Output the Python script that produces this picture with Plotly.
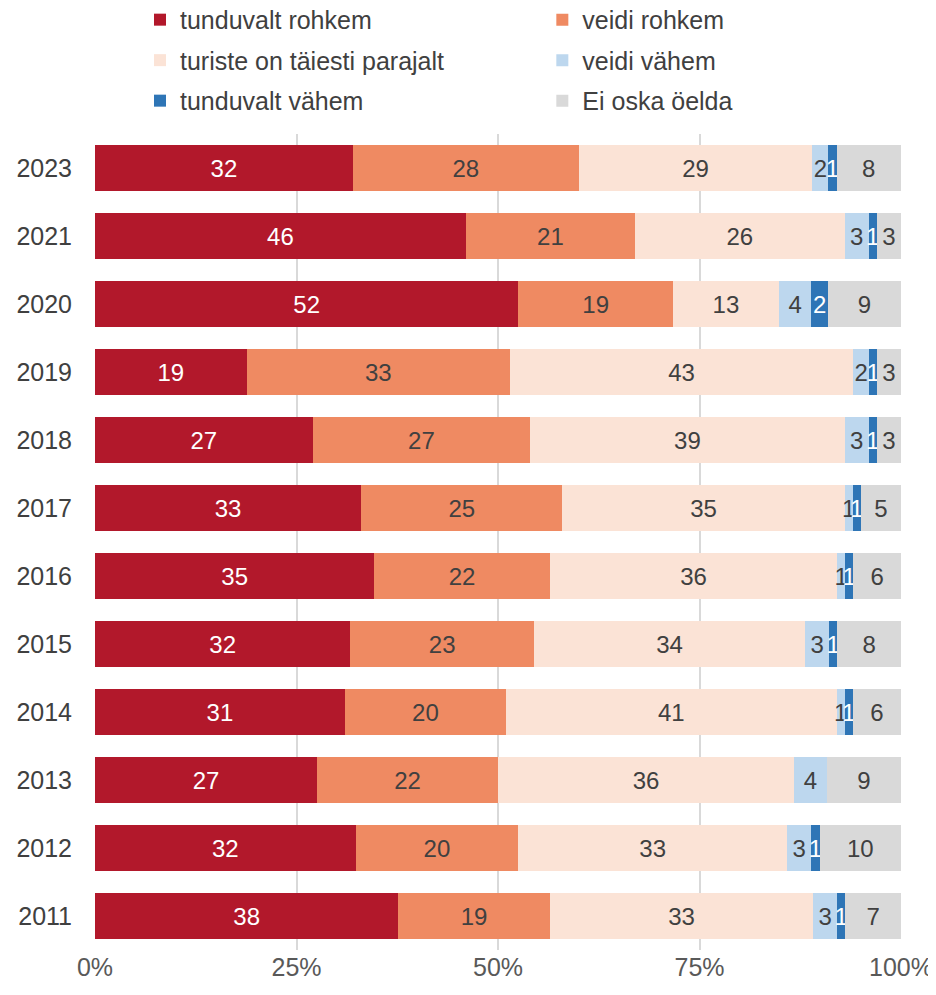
import plotly.graph_objects as go

years = ["2023", "2021", "2020", "2019", "2018", "2017", "2016",
         "2015", "2014", "2013", "2012", "2011"]

tunduvalt_rohkem = [32, 46, 52, 19, 27, 33, 35, 32, 31, 27, 32, 38]
veidi_rohkem = [28, 21, 19, 33, 27, 25, 22, 23, 20, 22, 20, 19]
parajalt = [29, 26, 13, 43, 39, 35, 36, 34, 41, 36, 33, 33]
veidi_vahem = [2, 3, 4, 2, 3, 1, 1, 3, 1, 4, 3, 3]
tunduvalt_vahem = [1, 1, 2, 1, 1, 1, 1, 1, 1, 0, 1, 1]
ei_oska = [8, 3, 9, 3, 3, 5, 6, 8, 6, 9, 10, 7]

series = [
    ("tunduvalt rohkem", tunduvalt_rohkem, "#B2182B", "white", "legend"),
    ("veidi rohkem", veidi_rohkem, "#EF8A62", "#404040", "legend2"),
    ("turiste on täiesti parajalt", parajalt, "#FBE3D6", "#404040", "legend"),
    ("veidi vähem", veidi_vahem, "#BDD7EE", "#404040", "legend2"),
    ("tunduvalt vähem", tunduvalt_vahem, "#2E75B6", "white", "legend"),
    ("Ei oska öelda", ei_oska, "#D9D9D9", "#404040", "legend2"),
]

FONT = "Liberation Sans, Arial, sans-serif"
FS = 25

fig = go.Figure()
for name, vals, color, tcolor, leg in series:
    fig.add_trace(go.Bar(
        y=years, x=vals, name=name, orientation="h",
        marker=dict(color=color, line=dict(width=0)),
        text=[str(v) if v > 0 else "" for v in vals],
        texttemplate="%{text}",
        textposition="inside", insidetextanchor="middle",
        textfont=dict(color=tcolor, size=FS - 1, family=FONT),
        legend=leg, legendgroup=name,
    ))

# page body adds an 8px offset, so margins are shifted up/left by 8
fig.update_layout(
    barmode="stack", barnorm="percent", bargap=0.32,
    width=936, height=995,
    margin=dict(l=87, r=43, t=126, b=53, autoexpand=False),
    plot_bgcolor="white", paper_bgcolor="white",
    font=dict(family=FONT, size=FS, color="#404040"),
    uniformtext=dict(minsize=FS - 1, mode="show"),
    legend=dict(x=0.0558, y=1.168, xanchor="left", yanchor="top",
                tracegroupgap=5, font=dict(size=FS, color="#404040"),
                bgcolor="rgba(0,0,0,0)"),
    legend2=dict(x=0.555, y=1.168, xanchor="left", yanchor="top",
                 tracegroupgap=5, font=dict(size=FS, color="#404040"),
                 bgcolor="rgba(0,0,0,0)"),
    showlegend=True,
)
fig.update_xaxes(range=[0, 100], tickvals=[0, 25, 50, 75, 100],
                 ticktext=["0%", "25%", "50%", "75%", "100%"],
                 showgrid=True, gridcolor="#D9D9D9", gridwidth=2,
                 zeroline=False, automargin=False,
                 tickfont=dict(size=FS, color="#595959"))
fig.update_yaxes(categoryorder="array", categoryarray=years[::-1],
                 ticks="", automargin=False, ticklabelstandoff=22,
                 tickfont=dict(size=FS, color="#404040"))

fig.write_html("out.html")
